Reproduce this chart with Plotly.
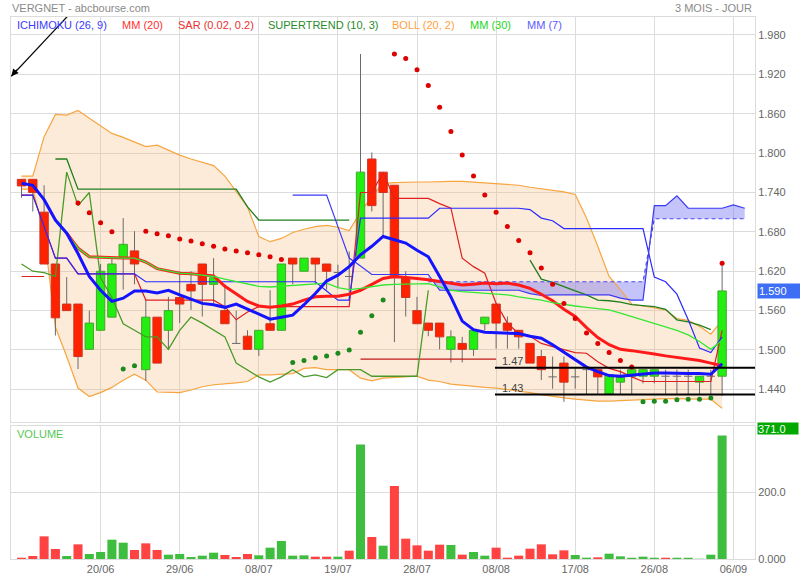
import plotly.graph_objects as go

# ---------------- data ----------------
opens  = [1.760,1.760,1.710,1.631,1.570,1.570,1.501,1.530,1.550,1.640,
          1.651,1.470,1.550,1.530,1.580,1.600,1.631,1.600,1.560,1.510,
          1.521,1.501,1.540,1.530,1.640,1.620,1.640,1.631,1.618,1.612,
          1.640,1.791,1.771,1.751,1.610,1.560,1.541,1.541,1.501,1.510,
          1.501,1.540,1.570,1.541,1.530,1.510,1.490,1.459,1.480,1.459,
          1.470,1.470,1.433,1.451,1.460,1.460,1.460,1.460,1.460,1.460,
          1.451,1.460,1.460]
highs  = [1.760,1.760,1.751,1.631,1.611,1.570,1.560,1.631,1.640,1.701,
          1.681,1.578,1.550,1.581,1.620,1.620,1.631,1.640,1.600,1.560,
          1.530,1.530,1.591,1.631,1.640,1.640,1.640,1.631,1.630,1.650,
          1.951,1.801,1.771,1.751,1.620,1.581,1.541,1.541,1.530,1.520,
          1.530,1.550,1.570,1.551,1.530,1.510,1.500,1.490,1.490,1.472,
          1.472,1.470,1.462,1.470,1.470,1.470,1.470,1.470,1.470,1.470,
          1.460,1.470,1.631]
lows   = [1.732,1.711,1.631,1.522,1.560,1.471,1.501,1.530,1.550,1.592,
          1.600,1.453,1.480,1.501,1.541,1.561,1.551,1.571,1.540,1.510,
          1.501,1.491,1.530,1.530,1.600,1.620,1.600,1.592,1.594,1.575,
          1.640,1.711,1.674,1.512,1.551,1.540,1.521,1.501,1.481,1.481,
          1.491,1.530,1.502,1.502,1.502,1.480,1.454,1.441,1.421,1.441,
          1.432,1.433,1.433,1.433,1.433,1.449,1.449,1.433,1.433,1.433,
          1.433,1.433,1.430]
closes = [1.750,1.740,1.631,1.549,1.560,1.490,1.541,1.620,1.631,1.661,
          1.631,1.550,1.480,1.560,1.570,1.590,1.600,1.610,1.540,1.510,
          1.501,1.530,1.530,1.631,1.631,1.640,1.631,1.620,1.618,1.612,
          1.771,1.720,1.740,1.610,1.580,1.540,1.530,1.520,1.520,1.501,
          1.530,1.550,1.541,1.530,1.520,1.480,1.470,1.459,1.451,1.459,
          1.470,1.459,1.462,1.458,1.470,1.470,1.470,1.460,1.460,1.460,
          1.460,1.460,1.590]

volume = [3, 9, 68, 30, 9, 44, 15, 21, 58, 49,
          27, 47, 27, 13, 15, 6, 10, 19, 12, 6,
          15, 11, 34, 54, 10, 11, 7, 7, 7, 25,
          344, 66, 40, 219, 61, 41, 25, 43, 42, 13,
          21, 10, 34, 4, 10, 31, 44, 14, 26, 12,
          4, 5, 16, 8, 2, 7, 1, 1, 1, 1,
          0.5, 13, 371]
vol_dir = "DDDDUDUUUUDDDUUUUUDDDUUUUUDDUDUDUDDDDDUDUUDDDDDDDUUDUUUUUDUUUUU"

tick_idx = [7, 14, 21, 28, 35, 42, 49, 56, 63]
tick_labels = ["20/06", "29/06", "08/07", "19/07", "28/07", "08/08", "17/08", "26/08", "06/09"]
price_ticks = [1.44, 1.50, 1.56, 1.62, 1.68, 1.74, 1.80, 1.86, 1.92, 1.98]
vol_ticks = [0, 200]
vol_ticktext = ["0.000", "200.0"]

boll_up = [1.765,1.765,1.825,1.859,1.858,1.865,1.853,1.841,1.830,1.824,
           1.817,1.810,1.812,1.804,1.797,1.791,1.786,1.781,1.765,1.742,
           1.718,1.673,1.665,1.670,1.679,1.684,1.688,1.690,1.687,1.682,
           1.710,1.734,1.754,1.755,1.756,1.756,1.756,1.757,1.757,1.757,
           1.756,1.755,1.754,1.752,1.751,1.748,1.746,1.744,1.741,1.737,
           1.701,1.658,1.612,1.592,1.570,1.567,1.564,1.561,1.548,1.545,
           1.536,1.524,1.545]
boll_lo = [1.745,1.745,1.678,1.535,1.490,1.442,1.429,1.435,1.443,1.454,
           1.463,1.454,1.436,1.435,1.435,1.439,1.444,1.447,1.448,1.450,
           1.452,1.462,1.462,1.463,1.464,1.472,1.473,1.470,1.470,1.470,
           1.457,1.453,1.457,1.458,1.459,1.460,1.454,1.452,1.448,1.446,
           1.444,1.443,1.442,1.440,1.438,1.435,1.432,1.429,1.427,1.425,
           1.423,1.422,1.422,1.423,1.424,1.425,1.426,1.426,1.426,1.425,
           1.425,1.425,1.411]

mm7 = [1.754,1.751,1.729,1.698,1.678,1.647,1.612,1.591,1.574,1.579,
       1.590,1.590,1.587,1.591,1.584,1.578,1.571,1.569,1.565,1.570,
       1.562,1.554,1.547,1.550,1.553,1.569,1.586,1.605,1.614,1.627,
       1.645,1.658,1.673,1.668,1.663,1.652,1.642,1.612,1.581,1.544,
       1.531,1.527,1.526,1.526,1.525,1.521,1.518,1.508,1.497,1.485,
       1.474,1.467,1.461,1.460,1.462,1.463,1.465,1.465,1.464,1.464,
       1.464,1.463,1.479]
mm20 = [None,None,None,None,1.678,1.655,1.642,1.641,1.640,1.640,
        1.640,1.634,1.624,1.621,1.617,1.616,1.614,1.613,1.597,1.585,
        1.574,1.567,1.565,1.567,1.570,1.576,1.581,1.582,1.582,1.585,
        1.591,1.600,1.609,1.612,1.611,1.609,1.607,1.604,1.602,1.599,
        1.600,1.602,1.601,1.602,1.599,1.594,1.585,1.575,1.562,1.551,
        1.534,1.519,1.508,1.501,1.499,1.497,1.494,1.491,1.489,1.486,
        1.484,1.480,1.476]
mm30 = [None,None,None,None,1.678,1.655,1.642,1.641,1.640,1.640,
        1.640,1.634,1.624,1.621,1.617,1.616,1.614,1.612,1.608,1.604,
        1.601,1.597,1.596,1.597,1.599,1.600,1.601,1.602,1.595,1.592,
        1.594,1.597,1.599,1.600,1.600,1.601,1.601,1.596,1.591,1.589,
        1.588,1.586,1.586,1.584,1.581,1.579,1.576,1.572,1.569,1.567,
        1.565,1.563,1.561,1.556,1.551,1.546,1.541,1.536,1.530,1.523,
        1.513,1.501,1.515]

tenkan = [1.736,1.736,1.688,1.640,1.640,1.616,1.616,1.616,1.616,1.616,
          1.616,1.576,1.576,1.576,1.576,1.576,1.576,1.576,1.566,1.546,
          1.558,1.566,1.566,1.566,1.566,1.566,1.566,1.566,1.566,1.566,
          1.740,1.740,1.770,1.731,1.731,1.731,1.731,1.723,1.716,1.640,
          1.627,1.617,1.571,1.541,1.525,1.521,1.510,1.505,1.500,1.496,
          1.495,1.482,1.472,1.467,1.459,1.452,1.452,1.452,1.452,1.452,
          1.452,1.452,1.530]
kijun = [1.736,1.736,1.688,1.640,1.640,1.616,1.616,1.616,1.616,1.616,
         1.616,1.604,1.604,1.604,1.604,1.604,1.604,1.604,1.604,1.604,
         1.604,1.604,1.604,1.604,1.604,1.604,1.604,1.590,1.576,1.576,
         1.701,1.701,1.701,1.701,1.701,1.701,1.701,1.716,1.716,1.716,
         1.716,1.716,1.716,1.716,1.716,1.714,1.701,1.697,1.685,1.685,
         1.685,1.685,1.685,1.685,1.685,1.685,1.611,1.604,1.585,1.546,
         1.503,1.496,1.520]
senkou_a = [None,None,None,None,None,None,None,None,None,None,
            None,None,None,None,None,None,None,None,None,None,
            None,None,None,None,1.736,1.736,1.736,1.736,1.688,1.640,
            1.628,1.615,1.615,1.615,1.615,1.615,1.615,1.591,1.591,1.591,
            1.591,1.591,1.591,1.591,1.591,1.586,1.583,1.584,1.584,1.584,
            1.584,1.584,1.584,1.579,1.576,1.576,1.720,1.720,1.735,1.716,
            1.716,1.716,1.716,1.721,1.716]
senkou_b = [None,None,None,None,None,None,None,None,None,None,
            None,None,None,None,None,None,None,None,None,None,
            None,None,None,None,None,None,None,None,None,None,
            None,None,None,None,None,None,1.604,1.604,1.604,1.604,
            1.604,1.604,1.604,1.604,1.604,1.604,1.604,1.604,1.604,1.604,
            1.604,1.604,1.604,1.604,1.604,1.604,1.700,1.700,1.700,1.700,
            1.700,1.700,1.700,1.700,1.700]
chikou = [1.631,1.620,1.618,1.612,1.771,1.720,1.740,1.610,1.580,1.540,
          1.530,1.520,1.520,1.501,1.530,1.550,1.541,1.530,1.520,1.480,
          1.470,1.459,1.451,1.459,1.470,1.459,1.462,1.458,1.470,1.470,
          1.470,1.460,1.460,1.460,1.460,1.460,1.591]
red_short = [1.612, 1.612, 1.612]

supertrend = [None,None,None,1.791,1.791,1.745,1.745,1.745,1.745,1.745,
              1.745,1.745,1.745,1.745,1.745,1.745,1.745,1.745,1.745,1.745,
              1.718,1.698,1.698,1.698,1.698,1.698,1.698,1.698,1.698,1.698,
              None,None,None,None,None,None,None,None,None,None,
              None,None,None,None,None,1.637,1.608,1.603,1.596,1.590,
              1.584,1.576,1.575,1.573,1.569,1.567,1.566,1.562,1.546,1.543,
              1.538,1.531,None]

sar_red_idx = [5,6,7,8,11,12,13,14,15,16,17,18,19,20,21,22,23,
               33,34,35,36,37,38,39,40,41,42,43,44,45,46,47,48,49,50,51,52,53,54,62]
sar_red_val = [1.724,1.709,1.694,1.680,1.681,1.677,1.674,1.669,1.666,1.662,1.658,1.654,1.651,1.648,1.645,1.642,1.638,
               1.951,1.944,1.927,1.903,1.870,1.833,1.797,1.765,1.736,1.710,1.688,1.667,1.648,1.625,1.600,1.571,
               1.548,1.526,1.510,1.496,1.484,1.474,1.632]
sar_grn_idx = [9,10,24,25,26,27,28,29,30,31,32,55,56,57,58,59,60,61]
sar_grn_val = [1.471,1.476,1.481,1.484,1.488,1.491,1.495,1.500,1.527,1.552,1.576,
               1.421,1.422,1.422,1.424,1.425,1.425,1.427]

support_levels = [1.473, 1.432]
support_labels = ["1.47", "1.43"]
support_start = 41.9
old_level = 1.486
old_level_span = [30, 42]
arrow_head = [-0.9, 1.917]
arrow_tail = [4.1, 2.009]

# ---------------- figure ----------------
N = len(closes)
idx = list(range(N))
X_RANGE = [-0.929, 64.91]
Y_RANGE = [1.3907, 2.0074]
FONT = "Arial, 'Liberation Sans', sans-serif"
HW = 0.37

fig = go.Figure()

# Bollinger fill
fig.add_trace(go.Scatter(x=idx + idx[::-1], y=boll_up + boll_lo[::-1], fill="toself",
                         fillcolor="rgba(247,190,130,0.30)", line=dict(width=0),
                         mode="lines", hoverinfo="skip"))
# Ichimoku cloud fill
cl = [i for i in range(len(senkou_a)) if senkou_a[i] is not None and senkou_b[i] is not None]
fig.add_trace(go.Scatter(x=cl + cl[::-1], y=[senkou_a[i] for i in cl] + [senkou_b[i] for i in cl[::-1]],
                         fill="toself", fillcolor="rgba(100,100,245,0.38)", line=dict(width=0),
                         mode="lines", hoverinfo="skip"))
# Bollinger lines
for arr in (boll_up, boll_lo):
    fig.add_trace(go.Scatter(x=idx, y=arr, mode="lines", line=dict(color="#f7a541", width=1.2)))

# wicks + doji ticks
wx, wy = [], []
for i in idx:
    wx += [i, i, None]
    wy += [lows[i], highs[i], None]
    if opens[i] == closes[i]:
        wx += [i - HW, i + HW, None]
        wy += [opens[i], opens[i], None]
fig.add_trace(go.Scatter(x=wx, y=wy, mode="lines", line=dict(color="#6a6a6a", width=1)))

def bodies(up):
    bx, by = [], []
    for i in idx:
        o, c = opens[i], closes[i]
        if o == c or (c > o) != up:
            continue
        lo, hi = min(o, c), max(o, c)
        bx += [i - HW, i + HW, i + HW, i - HW, i - HW, None]
        by += [lo, lo, hi, hi, lo, None]
    return bx, by

bx, by = bodies(True)
fig.add_trace(go.Scatter(x=bx, y=by, mode="lines", fill="toself", fillcolor="#22ee11",
                         line=dict(color="#45a530", width=1)))
bx, by = bodies(False)
fig.add_trace(go.Scatter(x=bx, y=by, mode="lines", fill="toself", fillcolor="#ff2200",
                         line=dict(color="#cc3322", width=1)))

# indicator lines
fig.add_trace(go.Scatter(x=idx[:len(red_short)], y=red_short, mode="lines", line=dict(color="#dd2222", width=1.2)))
fig.add_trace(go.Scatter(x=old_level_span, y=[old_level, old_level], mode="lines",
                         line=dict(color="#c01818", width=1.2)))
fig.add_trace(go.Scatter(x=idx[:len(chikou)], y=chikou, mode="lines", line=dict(color="#4a9a2a", width=1.3)))
fig.add_trace(go.Scatter(x=idx, y=supertrend, mode="lines", line=dict(color="#1f7f1f", width=1.3)))
fig.add_trace(go.Scatter(x=idx, y=tenkan, mode="lines", line=dict(color="#e02020", width=1.2)))
fig.add_trace(go.Scatter(x=idx, y=kijun, mode="lines", line=dict(color="#2a2aff", width=1.2)))
sidx = list(range(len(senkou_a)))
fig.add_trace(go.Scatter(x=sidx, y=senkou_a, mode="lines", line=dict(color="#3a3af5", width=1.2)))
fig.add_trace(go.Scatter(x=sidx, y=senkou_b, mode="lines", line=dict(color="#4a4af0", width=1.2, dash="4px,3px")))
fig.add_trace(go.Scatter(x=idx, y=mm20, mode="lines", line=dict(color="#ff1a1a", width=3)))
fig.add_trace(go.Scatter(x=idx, y=mm30, mode="lines", line=dict(color="#33e833", width=1.3)))
fig.add_trace(go.Scatter(x=idx, y=mm7, mode="lines", line=dict(color="#1414ff", width=3)))

# SAR dots
fig.add_trace(go.Scatter(x=sar_red_idx, y=sar_red_val, mode="markers",
                         marker=dict(color="#dd0000", size=5)))
fig.add_trace(go.Scatter(x=sar_grn_idx, y=sar_grn_val, mode="markers",
                         marker=dict(color="#1d8a1d", size=5)))

# support lines
for lvl in support_levels:
    fig.add_trace(go.Scatter(x=[support_start, X_RANGE[1]], y=[lvl, lvl], mode="lines",
                             line=dict(color="#000000", width=2)))

# drawn trend arrow shaft
fig.add_trace(go.Scatter(x=[arrow_head[0], arrow_tail[0]], y=[arrow_head[1], arrow_tail[1]],
                         mode="lines", line=dict(color="#000000", width=1.2), cliponaxis=False))

# volume bars
vol_colors = ["#3fbd3f" if d == "U" else "#ff4343" for d in vol_dir]
fig.add_trace(go.Bar(x=idx, y=volume, width=0.8, marker=dict(color=vol_colors, line=dict(width=0)),
                     xaxis="x2", yaxis="y2"))

grid = "#dcdcdc"
tickfont = dict(family=FONT, size=11, color="#666666")
fig.update_layout(
    width=800, height=580,
    margin=dict(l=11, r=45, t=17, b=21, autoexpand=False),
    paper_bgcolor="white", plot_bgcolor="white",
    showlegend=False, hovermode=False,
    font=dict(family=FONT),
    xaxis=dict(domain=[0, 1], anchor="y", range=X_RANGE, tickvals=tick_idx, showticklabels=False,
               showgrid=True, gridcolor=grid, zeroline=False, showline=True, mirror=True,
               linecolor=grid, linewidth=1, ticks="", automargin=False),
    yaxis=dict(domain=[0.2533, 1], range=Y_RANGE, side="right", tickvals=price_ticks,
               ticktext=["%.3f" % v for v in price_ticks], tickfont=tickfont,
               showgrid=True, gridcolor=grid, zeroline=False, showline=True, mirror=True,
               linecolor=grid, ticks="", automargin=False),
    xaxis2=dict(domain=[0, 1], anchor="y2", range=X_RANGE, tickvals=tick_idx, ticktext=tick_labels,
                tickfont=tickfont, showgrid=True, gridcolor=grid, zeroline=False, showline=True,
                mirror=True, linecolor=grid, ticks="", automargin=False),
    yaxis2=dict(domain=[0, 0.2459], range=[0, 400], side="right", tickvals=vol_ticks,
                ticktext=vol_ticktext, tickfont=tickfont, showgrid=True, gridcolor=grid,
                zeroline=False, showline=True, mirror=True, linecolor=grid, ticks="",
                automargin=False),
)

def px(x):
    return (x - 11) / 744.0

def py(y):
    return (559 - y) / 542.0

ann = []
ann.append(dict(text="VERGNET - abcbourse.com", xref="paper", yref="paper", x=px(10), y=py(8),
                xanchor="left", yanchor="middle", showarrow=False,
                font=dict(family=FONT, size=11, color="#8a8a8a")))
ann.append(dict(text="3 MOIS - JOUR", xref="paper", yref="paper", x=px(754), y=py(8),
                xanchor="right", yanchor="middle", showarrow=False,
                font=dict(family=FONT, size=11, color="#8a8a8a")))
legend_labels = ["ICHIMOKU (26, 9)", "MM (20)", "SAR (0.02, 0.2)", "SUPERTREND (10, 3)",
                 "BOLL (20, 2)", "MM (30)", "MM (7)"]
legend_colors = ["#3b3bff", "#ff3030", "#e83030", "#2a8a2a", "#ffa040", "#22d822", "#5a5aff"]
legend_px = [15, 120, 176, 266, 390, 468, 525]
for t, c, p in zip(legend_labels, legend_colors, legend_px):
    ann.append(dict(text=t, xref="paper", yref="paper", x=px(p), y=py(25.5), xanchor="left",
                    yanchor="middle", showarrow=False, font=dict(family=FONT, size=11, color=c)))
ann.append(dict(text="VOLUME", xref="paper", yref="paper", x=px(15), y=py(434), xanchor="left",
                yanchor="middle", showarrow=False, font=dict(family=FONT, size=11, color="#55c855")))
for lvl, lab in zip(support_levels, support_labels):
    ann.append(dict(text=lab, xref="x", yref="y", x=support_start, y=lvl, xanchor="left",
                    yanchor="bottom", xshift=5, yshift=-1, showarrow=False,
                    font=dict(family=FONT, size=11, color="#444444")))
ann.append(dict(text="%.3f" % closes[-1], xref="paper", yref="y", x=1, y=closes[-1], xanchor="left",
                yanchor="middle", xshift=2, showarrow=False, bgcolor="#3d6ef5", borderpad=1,
                width=40, align="left", font=dict(family=FONT, size=11, color="white")))
ann.append(dict(text="%.1f" % volume[-1], xref="paper", yref="y2", x=1, y=volume[-1], xanchor="left",
                yanchor="bottom", xshift=2, showarrow=False, bgcolor="#00a800", borderpad=0,
                width=40, height=11, align="left", font=dict(family=FONT, size=11, color="white")))
# arrowhead of the drawn trend line
ann.append(dict(text="", xref="x", yref="y", x=arrow_head[0], y=arrow_head[1],
                axref="x", ayref="y", ax=arrow_head[0] + 0.6, ay=arrow_head[1] + 0.0125,
                showarrow=True, arrowhead=2, arrowsize=1.2, arrowwidth=1.2, arrowcolor="#000000"))
fig.update_layout(annotations=ann)

fig.write_html("out.html", config={"displayModeBar": False},
               post_script="document.body.style.margin='0';document.body.style.padding='0';")
